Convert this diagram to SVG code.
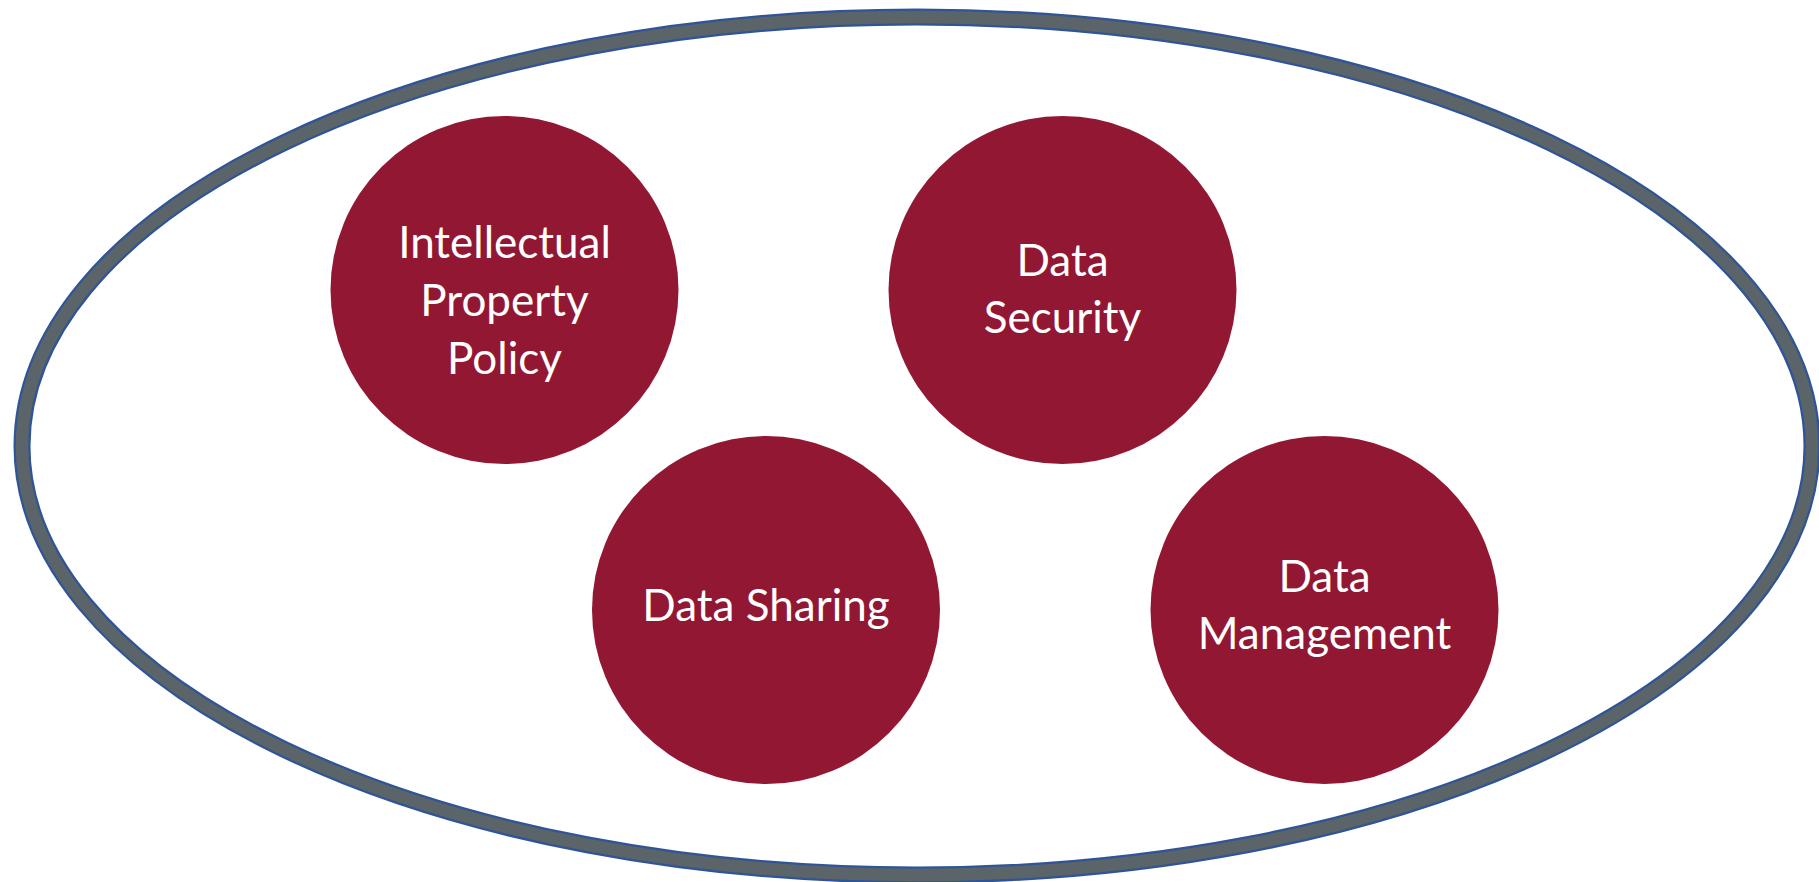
<svg xmlns="http://www.w3.org/2000/svg" width="1819" height="882" viewBox="0 0 1819 882">
  <style>
    .node { fill: #921733; }
    .label { fill: #ffffff; font-family: Lato, "Open Sans", "Noto Sans", sans-serif; font-size: 44px; text-anchor: middle; }
  </style>
  <rect x="0" y="0" width="1819" height="882" fill="#ffffff"/>
  <g id="boundary">
    <ellipse cx="917" cy="446" rx="895" ry="429" fill="none" stroke="#2f5597" stroke-width="17"/>
    <ellipse cx="917" cy="446" rx="895" ry="429" fill="none" stroke="#5a6469" stroke-width="12.5"/>
  </g>
  <g id="connectors"></g>
  <g id="ip-policy">
    <circle class="node" cx="504.5" cy="290" r="174"/>
    <text class="label" x="504.5" y="258">Intellectual</text>
    <text class="label" x="504.5" y="316">Property</text>
    <text class="label" x="504.5" y="374">Policy</text>
  </g>
  <g id="data-security">
    <circle class="node" cx="1062.5" cy="290" r="174"/>
    <text class="label" x="1062.5" y="276">Data</text>
    <text class="label" x="1062.5" y="333">Security</text>
  </g>
  <g id="data-sharing">
    <circle class="node" cx="766" cy="610" r="174"/>
    <text class="label" x="766" y="621">Data Sharing</text>
  </g>
  <g id="data-management">
    <circle class="node" cx="1324.5" cy="610" r="174"/>
    <text class="label" x="1324.5" y="592">Data</text>
    <text class="label" x="1324.5" y="649">Management</text>
  </g>
</svg>
